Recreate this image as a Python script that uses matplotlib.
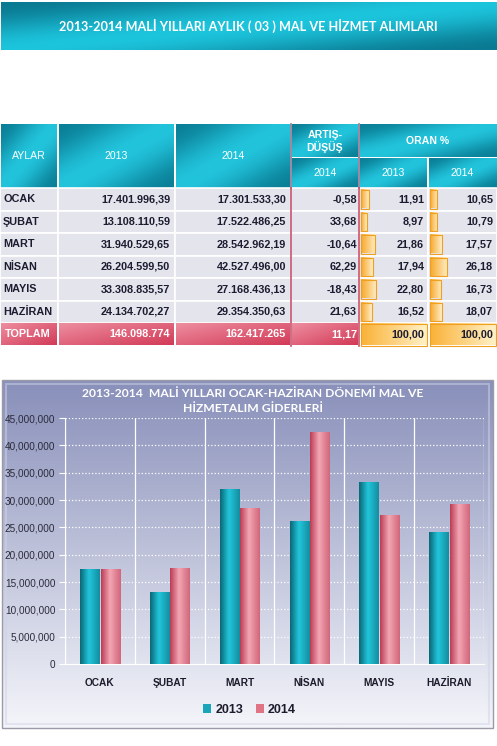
import numpy as np
import matplotlib.pyplot as plt
from matplotlib.patches import Rectangle
from matplotlib.colors import to_rgb
from matplotlib.ticker import FuncFormatter, MultipleLocator

# table / chart data
months = ['OCAK', 'ŞUBAT', 'MART', 'NİSAN', 'MAYIS', 'HAZİRAN']
y2013 = [17401996.39, 13108110.59, 31940529.65, 26204599.50, 33308835.57, 24134702.27]
y2014 = [17301533.30, 17522486.25, 28542962.19, 42527496.00, 27168436.13, 29354350.63]
change = [-0.58, 33.68, -10.64, 62.29, -18.43, 21.63]
share2013 = [11.91, 8.97, 21.86, 17.94, 22.80, 16.52]
share2014 = [10.65, 10.79, 17.57, 26.18, 16.73, 18.07]
totals = [146098774, 162417265]
total_change = 11.17
total_share = [100.00, 100.00]
years = ['2013', '2014']

W, H = 497, 746
fig = plt.figure(figsize=(W / 100, H / 100), dpi=100)
bg = fig.add_axes([0, 0, 1, 1])
bg.axis('off')

TAB = ['Liberation Sans', 'DejaVu Sans']
TITLE = ['Lato', 'DejaVu Sans']


def tr(v, d=2):
    s = f'{v:,.{d}f}'
    return s.replace(',', 'X').replace('.', ',').replace('X', '.')


def grad(c1, c2, kind='band', n=60):
    # c1 where s=0, c2 where s=1
    c1, c2 = np.array(to_rgb(c1)), np.array(to_rgb(c2))
    xx, yy = np.meshgrid(np.linspace(0, 1, n), np.linspace(0, 1, n))
    if kind == 'band':
        s = np.cos(np.pi * (xx + yy) * 0.5) ** 2
    elif kind == 'diag':
        s = (xx + yy) / 2
    elif kind == 'vert':
        s = yy
    else:
        s = xx
    return c1 * (1 - s[..., None]) + c2 * s[..., None]


def cell(ax, x0, x1, y0, y1, img, z=1):
    ax.imshow(img, extent=[x0, x1, y1, y0], aspect='auto', interpolation='bilinear', zorder=z)


# top banner
cell(bg, 1, 497, 2, 50, grad('#1cc4dc', '#0a7a92', 'band'))
bg.text(248, 26, '2013-2014 MALİ YILLARI AYLIK ( 03 ) MAL VE HİZMET ALIMLARI', color='white',
        fontsize=9.1, fontweight='bold', family=TITLE, ha='center', va='center', zorder=5)

# table geometry
cols = [0, 58, 175, 291, 359, 428, 497]
top, mid, hdr = 124, 157, 188
rh = 22.5
head_img = grad('#22c4dc', '#0a8098', 'band')

for i in range(3):
    cell(bg, cols[i] + 1, cols[i + 1] - 1, top, hdr, head_img)
cell(bg, cols[3] + 1, cols[4] - 1, top, mid, head_img)
cell(bg, cols[3] + 1, cols[4] - 1, mid + 1, hdr, head_img)
cell(bg, cols[4] + 1, cols[6], top, mid, head_img)
cell(bg, cols[4] + 1, cols[5] - 1, mid + 1, hdr, head_img)
cell(bg, cols[5] + 1, cols[6], mid + 1, hdr, head_img)
for xb in (cols[3], cols[4]):
    bg.plot([xb, xb], [top, hdr], color='#8a7390', lw=1.2, zorder=4)

hk = dict(color='white', fontsize=7.6, family=TAB, ha='center', va='center', zorder=5)
bg.text((cols[0] + cols[1]) / 2, (top + hdr) / 2, 'AYLAR', **hk)
bg.text((cols[1] + cols[2]) / 2, (top + hdr) / 2, years[0], **hk)
bg.text((cols[2] + cols[3]) / 2, (top + hdr) / 2, years[1], **hk)
bg.text((cols[3] + cols[4]) / 2, (top + mid) / 2 + 1, 'ARTIŞ-\nDÜŞÜŞ', fontweight='bold',
        linespacing=1.1, **hk)
bg.text((cols[4] + cols[6]) / 2, (top + mid) / 2, 'ORAN %', fontweight='bold', **hk)
bg.text((cols[3] + cols[4]) / 2, (mid + hdr) / 2, years[1], **hk)
bg.text((cols[4] + cols[5]) / 2, (mid + hdr) / 2, years[0], **hk)
bg.text((cols[5] + cols[6]) / 2, (mid + hdr) / 2, years[1], **hk)

# data rows
bar_scale = 0.66  # px per percent
dk = dict(color='#1c1c30', fontsize=7.8, fontweight='bold', family=TAB, va='center', zorder=5)
bar_img = grad('#f7a82a', '#ffeec8', 'horiz')
for r, m in enumerate(months):
    y0 = hdr + r * rh
    y1 = y0 + rh
    yc = (y0 + y1) / 2
    for c in range(6):
        bg.add_patch(Rectangle((cols[c], y0), cols[c + 1] - cols[c], rh, facecolor='#e4e4ed',
                               edgecolor='white', lw=1.2, zorder=1))
    bg.text(cols[0] + 3, yc, m, ha='left', **dk)
    bg.text(cols[2] - 5, yc, tr(y2013[r]), ha='right', **dk)
    bg.text(cols[3] - 5, yc, tr(y2014[r]), ha='right', **dk)
    bg.text(cols[4] - 2, yc, tr(change[r]), ha='right', **dk)
    for k, sh in enumerate((share2013[r], share2014[r])):
        x0 = cols[4 + k] + 2
        cell(bg, x0, x0 + sh * bar_scale, y0 + 2, y1 - 2, bar_img, z=2)
        bg.add_patch(Rectangle((x0, y0 + 2), sh * bar_scale, rh - 4, fill=False,
                               edgecolor='#f0a020', lw=0.8, zorder=3))
        bg.text(cols[5 + k] - 4, yc, tr(sh), ha='right', **dk)

# total row
y0 = hdr + 6 * rh
y1 = y0 + rh
yc = (y0 + y1) / 2
tot_img = grad('#ee8ea0', '#d23a57', 'diag')
for c in range(4):
    cell(bg, cols[c] + 1, cols[c + 1] - 1, y0 + 1, y1, tot_img, z=2)
org_img = grad('#fab238', '#fff1c6', 'horiz')
for c in (4, 5):
    cell(bg, cols[c] + 2, cols[c + 1] - 1, y0 + 1, y1, org_img, z=2)
    bg.add_patch(Rectangle((cols[c] + 2, y0 + 1), cols[c + 1] - cols[c] - 3, rh - 1, fill=False,
                           edgecolor='#f0a020', lw=0.8, zorder=3))
tk = dict(dk, color='white')
bg.text(cols[0] + 5, yc, 'TOPLAM', ha='left', **tk)
bg.text(cols[2] - 5, yc, tr(totals[0], 0), ha='right', **tk)
bg.text(cols[3] - 5, yc, tr(totals[1], 0), ha='right', **tk)
bg.text(cols[4] - 2, yc, tr(total_change), ha='right', **tk)
bg.text(cols[5] - 4, yc, tr(total_share[0]), ha='right', **dk)
bg.text(cols[6] - 4, yc, tr(total_share[1]), ha='right', **dk)
for xb in (cols[3], cols[4]):
    bg.plot([xb, xb], [hdr, y1], color='#c8506c', lw=1.2, zorder=4)

# chart panel
cell(bg, 2, 493, 380, 728, grad('#8990ba', '#f4f5fa', 'vert'))
bg.add_patch(Rectangle((2, 380), 491, 348, fill=False, edgecolor='#9a9aa8', lw=1.0, zorder=3))
bg.add_patch(Rectangle((6, 384), 483, 340, fill=False, edgecolor='#d0d3e6', lw=1.5, alpha=0.5, zorder=3))
bg.text(253, 401, '2013-2014  MALİ YILLARI OCAK-HAZİRAN DÖNEMİ MAL VE\nHİZMETALIM GİDERLERİ',
        color='white', fontsize=8.7, fontweight='bold', family=TITLE, ha='center', va='center',
        linespacing=1.35, zorder=5)

bg.set_xlim(0, W)
bg.set_ylim(H, 0)

ax = fig.add_axes([65 / W, (H - 664) / H, (484 - 65) / W, (664 - 418) / H])
ax.patch.set_alpha(0)
x = np.arange(len(months))
bw = 0.285
b1 = ax.bar(x - bw / 2, y2013, bw, color='#1aa5b8', zorder=3, label=years[0])
b2 = ax.bar(x + bw / 2 + 0.01, y2014, bw, color='#e07485', zorder=3, label=years[1])


def cyl(c_dark, c_light):
    d, l = np.array(to_rgb(c_dark)), np.array(to_rgb(c_light))
    t = np.linspace(0, 1, 40)
    prof = np.where(t < 0.45, t / 0.45, 1 - (t - 0.45) / 0.55 * 0.6)
    row = d * (1 - prof[:, None]) + l * prof[:, None]
    return np.clip(np.repeat(row[None], 4, axis=0), 0, 1)


for bars, img in ((b1, cyl('#0a6877', '#22c6dc')), (b2, cyl('#bb3d56', '#f3a6b3'))):
    for p in bars:
        im = ax.imshow(img, extent=[p.get_x(), p.get_x() + p.get_width(), 0, p.get_height()],
                       aspect='auto', interpolation='bilinear', zorder=4)
        im.set_clip_path(p)

ax.set_xlim(-0.5, len(months) - 0.5)
ax.set_ylim(0, 45000000)
ax.yaxis.set_major_locator(MultipleLocator(5000000))
ax.yaxis.set_major_formatter(FuncFormatter(lambda v, p: f'{v:,.0f}'))
ax.set_xticks(x)
ax.set_xticklabels(months, fontsize=7.3, fontweight='bold', color='#1c1c2c', family=TAB)
ax.tick_params(axis='x', length=0, pad=10)
ax.tick_params(axis='y', labelsize=7.2, labelcolor='#2a2a3a', color='white', length=4, width=0.8, pad=3)
for lbl in ax.get_yticklabels():
    lbl.set_family(TAB)
ax.grid(axis='y', color='white', ls=':', lw=0.9, zorder=1)
for xb in np.arange(-0.5, len(months), 1.0):
    ax.axvline(xb, color='white', lw=0.9, zorder=1)
for s in ('top', 'right'):
    ax.spines[s].set_visible(False)
ax.spines['left'].set_color('white')
ax.spines['bottom'].set_color('white')
leg = ax.legend(loc='upper center', bbox_to_anchor=(0.44, -0.115), ncol=2, frameon=False,
                handlelength=0.7, handleheight=0.7, handletextpad=0.3, columnspacing=1.0,
                prop={'family': TAB, 'weight': 'bold', 'size': 9})
for t in leg.get_texts():
    t.set_color('#1c1c2c')

fig.savefig('out.png', dpi=100)
